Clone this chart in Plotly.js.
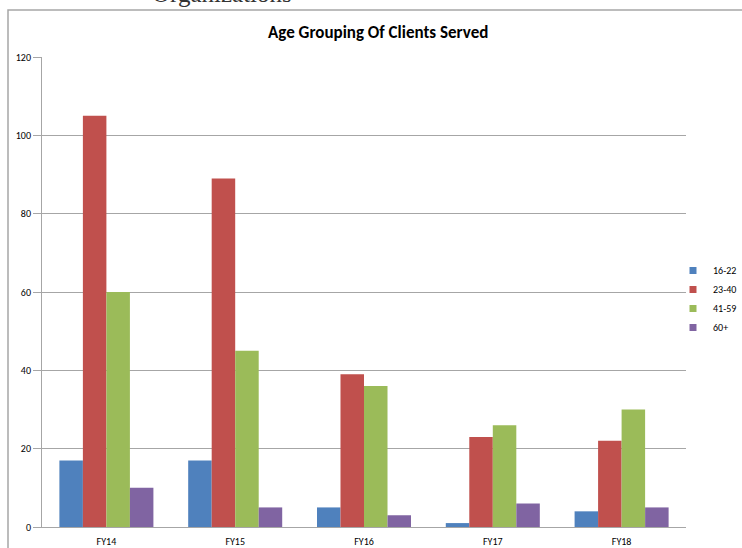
<!DOCTYPE html>
<html>
<head>
<meta charset="utf-8">
<script src="https://cdn.plot.ly/plotly-3.0.1.min.js"></script>
<style>
html,body{margin:0;padding:0;background:#fff;}
#chart{width:742px;height:548px;}
</style>
</head>
<body>
<div id="chart"></div>
<script>
const categories = ["FY14", "FY15", "FY16", "FY17", "FY18"];
const seriesNames = ["16-22", "23-40", "41-59", "60+"];
const age16_22 = [17, 17, 5, 1, 4];
const age23_40 = [105, 89, 39, 23, 22];
const age41_59 = [60, 45, 36, 26, 30];
const age60plus = [10, 5, 3, 6, 5];
const yTicks = [0, 20, 40, 60, 80, 100, 120];

const colors = ["#4F81BD", "#C0504D", "#9BBB59", "#8064A2"];
const values = [age16_22, age23_40, age41_59, age60plus];

const font = "Calibri, Carlito, 'Liberation Sans Narrow', 'Open Sans', sans-serif";

const barTraces = values.map((v, i) => ({
  type: "bar",
  name: seriesNames[i],
  x: categories,
  y: v,
  marker: {color: colors[i], line: {width: 0}},
  showlegend: false,
  legendgroup: seriesNames[i],
  hoverinfo: "x+y+name"
}));

// legend-only entries with small square symbols (like the original Excel legend)
const legendTraces = seriesNames.map((n, i) => ({
  type: "scatter",
  mode: "markers",
  name: n,
  x: [categories[0]],
  y: [null],
  legendgroup: n,
  marker: {color: colors[i], symbol: "square", size: 7},
  showlegend: true
}));

const layout = {
  width: 742,
  height: 548,
  margin: {l: 42, r: 56, t: 57, b: 21, pad: 0, autoexpand: false},
  paper_bgcolor: "#ffffff",
  plot_bgcolor: "#ffffff",
  barmode: "group",
  bargap: 0.27,
  bargroupgap: 0,
  font: {family: font, size: 10, color: "#000"},
  title: {
    text: "<b>Age Grouping Of Clients Served</b>",
    font: {family: font, size: 17, color: "#000"},
    x: 0.522, xref: "paper", xanchor: "center",
    y: 1 - 32/548, yref: "container", yanchor: "middle"
  },
  xaxis: {
    type: "category",
    showgrid: false,
    showline: true,
    linecolor: "#A6A6A6",
    linewidth: 1,
    ticks: "outside",
    ticklen: 5,
    tickcolor: "rgba(0,0,0,0)",
    tickfont: {family: font, size: 10, color: "#000"},
    fixedrange: true
  },
  yaxis: {
    range: [0, 120],
    tickvals: yTicks,
    ticktext: yTicks.map(String),
    showgrid: true,
    gridcolor: "#A6A6A6",
    gridwidth: 1,
    showline: true,
    linecolor: "#A6A6A6",
    linewidth: 1,
    ticks: "outside",
    ticklen: 8,
    tickcolor: "#A6A6A6",
    tickfont: {family: font, size: 10, color: "#000"},
    zeroline: false,
    fixedrange: true
  },
  legend: {
    xref: "container", yref: "container",
    x: 673 / 742, xanchor: "left",
    y: 1 - 299 / 548, yanchor: "middle",
    font: {family: font, size: 10, color: "#000"},
    itemwidth: 30,
    bgcolor: "rgba(0,0,0,0)",
    tracegroupgap: 0
  },
  shapes: [
    {
      type: "rect", xref: "paper", yref: "paper",
      x0: (8 - 42) / 644, x1: 1.2,
      y0: -0.2, y1: (527 - 10) / 470,
      line: {color: "#A6A6A6", width: 1.5},
      fillcolor: "rgba(0,0,0,0)",
      layer: "below"
    }
  ],
  annotations: [
    {
      text: "Organizations",
      xref: "paper", yref: "paper",
      x: (150 - 42) / 644, xanchor: "left",
      y: (527 + 7) / 470, yanchor: "middle",
      showarrow: false,
      font: {family: "'Liberation Serif', 'Times New Roman', serif", size: 25, color: "#333"}
    }
  ]
};

Plotly.newPlot("chart", barTraces.concat(legendTraces), layout, {displayModeBar: false, staticPlot: true});
</script>
</body>
</html>
